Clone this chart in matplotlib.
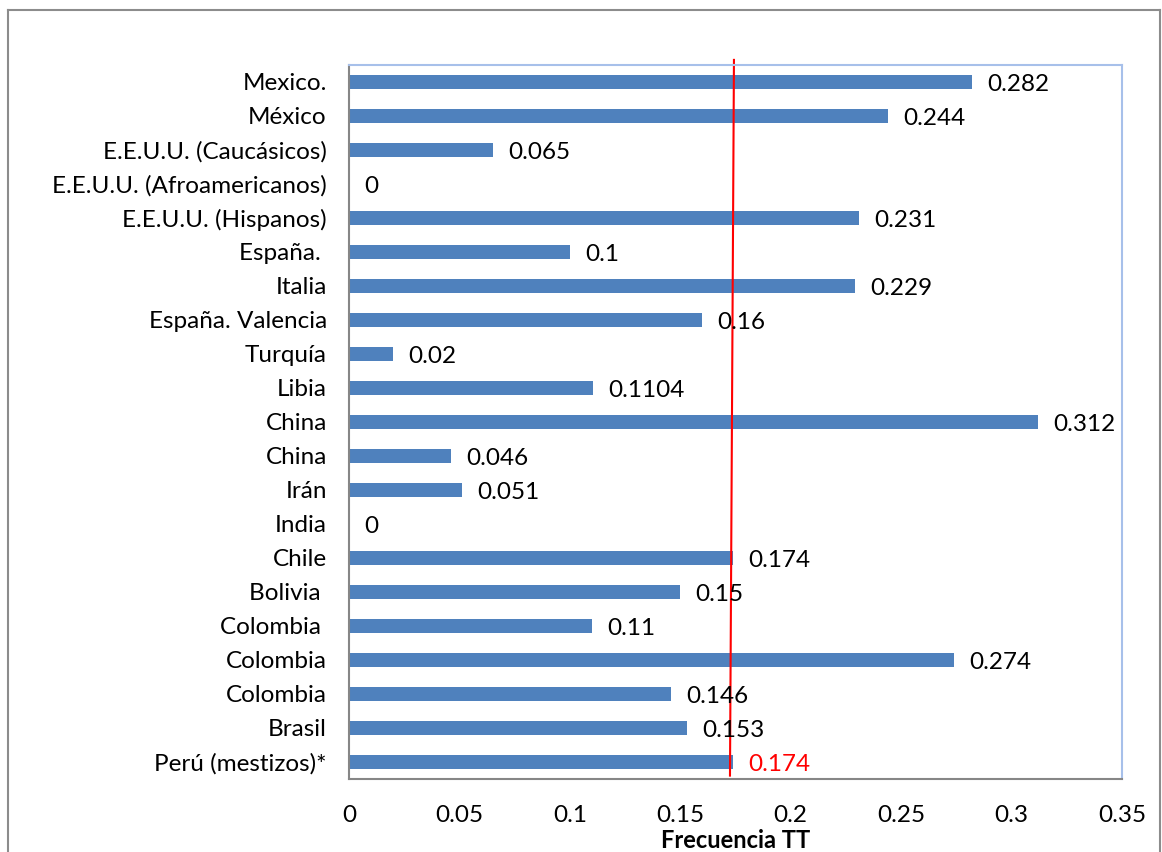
import matplotlib.pyplot as plt
import numpy as np
from matplotlib.lines import Line2D

categorias = ["Mexico.", "México", "E.E.U.U. (Caucásicos)", "E.E.U.U. (Afroamericanos)",
              "E.E.U.U. (Hispanos)", "España. ", "Italia", "España. Valencia", "Turquía",
              "Libia", "China", "China", "Irán", "India", "Chile", "Bolivia ", "Colombia ",
              "Colombia", "Colombia", "Brasil", "Perú (mestizos)*"]
frecuencias = [0.282, 0.244, 0.065, 0, 0.231, 0.1, 0.229, 0.16, 0.02, 0.1104, 0.312,
               0.046, 0.051, 0, 0.174, 0.15, 0.11, 0.274, 0.146, 0.153, 0.174]
etiquetas = ["0.282", "0.244", "0.065", "0", "0.231", "0.1", "0.229", "0.16", "0.02",
             "0.1104", "0.312", "0.046", "0.051", "0", "0.174", "0.15", "0.11", "0.274",
             "0.146", "0.153", "0.174"]
xticks = [0, 0.05, 0.1, 0.15, 0.2, 0.25, 0.3, 0.35]
xtick_labels = ["0", "0.05", "0.1", "0.15", "0.2", "0.25", "0.3", "0.35"]
referencia = 0.174

plt.rcParams['font.family'] = ['Lato', 'DejaVu Sans']
fs = 17.5

fig = plt.figure(figsize=(11.62, 8.52), dpi=100)
ax = fig.add_axes([349 / 1162, 1 - 779 / 852, (1122 - 349) / 1162, (779 - 65) / 852])

# outer chart frame (bottom edge is cut off in the original)
W, H = 1162, 852
frame = dict(color='#8c8c8c', lw=1.5, transform=fig.transFigure)
fig.add_artist(Line2D([8 / W, 8 / W], [0, 1 - 10 / H], **frame))
fig.add_artist(Line2D([8 / W, 1160 / W], [1 - 10 / H, 1 - 10 / H], **frame))
fig.add_artist(Line2D([1160 / W, 1160 / W], [0, 1 - 10 / H], **frame))

y = np.arange(len(categorias))
ax.barh(y, frecuencias, height=0.41, color='#4f81bd')
ax.set_ylim(len(categorias) - 0.5, -0.5)
ax.set_xlim(0, 0.35)

for i, (v, t) in enumerate(zip(frecuencias, etiquetas)):
    color = 'red' if i == len(categorias) - 1 else 'black'
    ax.annotate(t, (v, i), xytext=(11, -2), textcoords='offset points',
                va='center', ha='left', fontsize=fs, color=color)

ax.set_yticks(y)
ax.set_yticklabels(categorias, fontsize=fs)
ax.set_xticks(xticks)
ax.set_xticklabels(xtick_labels, fontsize=fs)
ax.tick_params(axis='y', length=0, pad=16)
ax.tick_params(axis='x', length=0, pad=19)
ax.set_xlabel('Frecuencia TT', fontsize=17, fontweight='bold', labelpad=2)

for s in ['left', 'bottom']:
    ax.spines[s].set_color('#868686')
    ax.spines[s].set_linewidth(1.5)
for s in ['top', 'right']:
    ax.spines[s].set_color('#a7c0ea')
    ax.spines[s].set_linewidth(1.5)

# red reference line (slightly tilted as in the original)
ax.plot([referencia + 0.0003, referencia - 0.0015], [-0.65, 20.4], color='red', lw=1.5,
        clip_on=False)

fig.savefig('out.png', dpi=100)
